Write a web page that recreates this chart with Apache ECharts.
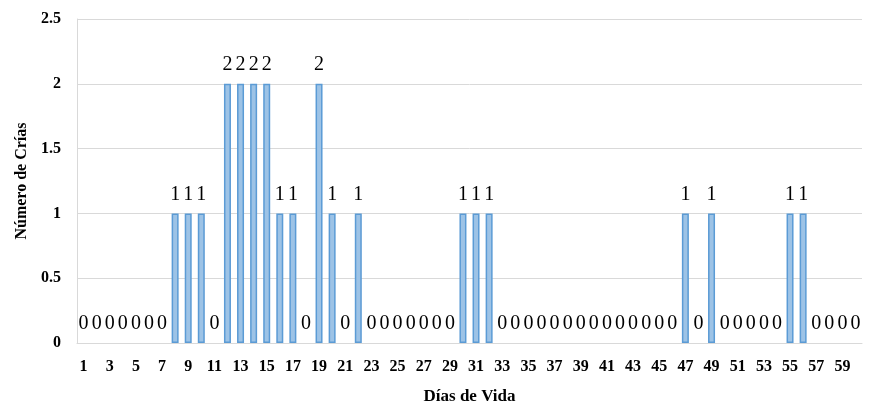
<!DOCTYPE html>
<html>
<head>
<meta charset="utf-8">
<script src="https://cdn.jsdelivr.net/npm/echarts@6/dist/echarts.min.js"></script>
<style>
    html, body { margin: 0; padding: 0; background: #fff; }
    #chart { width: 887px; height: 413px; }
</style>
</head>
<body>
<div id="chart"></div>
<script>
// días 1..60
const dias = [];
for (let d = 1; d <= 60; d++) dias.push(String(d));

const crias = [
    0, 0, 0, 0, 0, 0, 0, 1, 1, 1,
    0, 2, 2, 2, 2, 1, 1, 0, 2, 1,
    0, 1, 0, 0, 0, 0, 0, 0, 0, 1,
    1, 1, 0, 0, 0, 0, 0, 0, 0, 0,
    0, 0, 0, 0, 0, 0, 1, 0, 1, 0,
    0, 0, 0, 0, 1, 1, 0, 0, 0, 0
];

const yTicks = [0, 0.5, 1, 1.5, 2, 2.5];

// barras en cero sin borde (en el original no se ven)
const barData = crias.map(function (v) {
    return v === 0 ? { value: v, itemStyle: { borderWidth: 0 } } : v;
});

const myBar = echarts.init(document.getElementById('chart'));
myBar.setOption({
    animation: false,
    textStyle: {
        fontFamily: 'Liberation Serif'
    },
    grid: {
        left: 77,
        right: 25,
        top: 19,
        bottom: 70
    },
    xAxis: {
        type: 'category',
        data: dias,
        name: 'Días de Vida',
        nameLocation: 'middle',
        nameGap: 45,
        nameTextStyle: {
            color: '#000',
            fontWeight: 'bold',
            fontSize: 17,
            fontFamily: 'Liberation Serif'
        },
        axisTick: { show: false },
        axisLine: {
            lineStyle: { color: '#D9D9D9', width: 1 }
        },
        axisLabel: {
            interval: 1,
            color: '#000',
            fontWeight: 'bold',
            fontSize: 16,
            margin: 16,
            fontFamily: 'Liberation Serif'
        }
    },
    yAxis: {
        type: 'value',
        min: 0,
        max: 2.5,
        interval: 0.5,
        name: 'Número de Crías',
        nameLocation: 'middle',
        nameGap: 41,
        nameTextStyle: {
            color: '#000',
            fontWeight: 'bold',
            fontSize: 16,
            fontFamily: 'Liberation Serif'
        },
        axisLine: {
            show: true,
            lineStyle: { color: '#D9D9D9', width: 1 }
        },
        axisTick: { show: false },
        axisLabel: {
            color: '#000',
            fontWeight: 'bold',
            fontSize: 16,
            margin: 16,
            fontFamily: 'Liberation Serif',
            formatter: function (v) {
                return yTicks.indexOf(v) >= 0 ? String(v) : '';
            }
        },
        splitLine: {
            lineStyle: { color: '#D9D9D9', width: 1 }
        }
    },
    series: [
        {
            name: 'Crías',
            type: 'bar',
            data: barData,
            barWidth: 7,
            itemStyle: {
                color: '#9DC3E6',
                borderColor: '#5B9BD5',
                borderWidth: 1.5
            },
            label: {
                show: true,
                position: 'top',
                distance: 9,
                color: '#000',
                fontSize: 20,
                fontFamily: 'Liberation Serif'
            }
        }
    ]
});
</script>
</body>
</html>
